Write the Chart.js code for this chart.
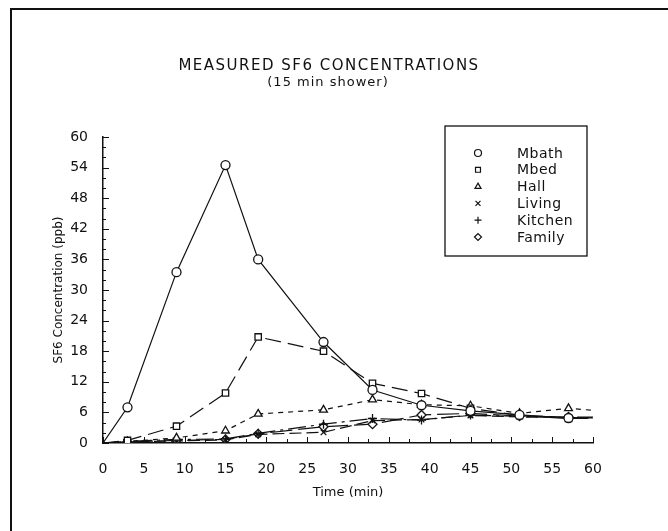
<!DOCTYPE html>
<html>
<head>
<meta charset="utf-8">
<script src="https://cdn.jsdelivr.net/npm/chart.js@4"></script>
<style>
  html, body { margin: 0; padding: 0; background: #fff; }
  #wrap { position: relative; width: 668px; height: 531px; }
</style>
</head>
<body>
<div id="wrap"><canvas id="sf6Chart" width="668" height="531"></canvas></div>
<script>
// tempos de medição (min)
const tempos = [0, 3, 9, 15, 19, 27, 33, 39, 45, 51, 57, 60];

// concentrações por cômodo (ppb)
const mbath   = [0, 7.0, 33.5, 54.5, 36.0, 19.8, 10.4, 7.4, 6.3, 5.5, 4.9, 4.9];
const mbed    = [0, 0.5, 3.3, 9.8, 20.8, 18.0, 11.7, 9.7, 6.8, 5.4, 4.8, 4.8];
const hall    = [0, 0.3, 1.0, 2.4, 5.7, 6.5, 8.5, 7.5, 7.3, 5.8, 6.8, 6.4];
const living  = [0, 0.2, 0.4, 0.6, 1.7, 2.1, 4.4, 4.6, 5.4, 5.1, 5.0, 5.0];
const kitchen = [0, 0.3, 0.7, 0.8, 1.9, 3.7, 4.8, 4.5, 5.5, 5.2, 5.0, 5.0];
const family  = [0, 0.2, 0.5, 0.7, 1.8, 3.2, 3.7, 5.5, 5.8, 5.3, 5.1, 5.1];

const nomes = ['Mbath', 'Mbed', 'Hall', 'Living', 'Kitchen', 'Family'];

// ticks dos eixos
const xTicks = [0, 5, 10, 15, 20, 25, 30, 35, 40, 45, 50, 55, 60];
const yTicks = [0, 6, 12, 18, 24, 30, 36, 42, 48, 54, 60];

const titulo = 'MEASURED SF6 CONCENTRATIONS';
const subtitulo = '(15 min shower)';

const FONTE = "'DejaVu Sans', sans-serif";
const estilos = [
    {style: 'circle', dash: [], radius: 4.5},
    {style: 'rect', dash: [16, 7], radius: 4.5},
    {style: 'triangle', dash: [5, 5], radius: 4.5},
    {style: 'crossRot', dash: [12, 5], radius: 4},
    {style: 'cross', dash: [18, 5, 3, 5], radius: 4.5},
    {style: 'rectRot', dash: [22, 6], radius: 4.5}
];

function serie(nome, valores, i) {
    const e = estilos[i];
    const ultimo = valores.length - 1;
    return {
        label: nome,
        data: tempos.map((t, k) => ({x: t, y: valores[k]})),
        borderColor: '#111',
        backgroundColor: '#fff',
        borderWidth: 1.2,
        borderDash: e.dash,
        pointStyle: e.style,
        pointRadius: ctx => (ctx.dataIndex === 0 || ctx.dataIndex === ultimo) ? 0 : e.radius,
        pointBorderWidth: 1.3,
        pointBorderColor: '#111',
        pointBackgroundColor: '#fff',
        tension: 0
    };
}

const datasets = [
    serie(nomes[0], mbath, 0),
    serie(nomes[1], mbed, 1),
    serie(nomes[2], hall, 2),
    serie(nomes[3], living, 3),
    serie(nomes[4], kitchen, 4),
    serie(nomes[5], family, 5)
];

// moldura (só esquerda e topo aparecem no recorte) + títulos
const moldura = {
    id: 'moldura',
    beforeDraw(chart) {
        const ctx = chart.ctx;
        ctx.save();
        ctx.fillStyle = '#fff';
        ctx.fillRect(0, 0, chart.width, chart.height);
        ctx.strokeStyle = '#111';
        ctx.lineWidth = 2;
        ctx.beginPath();
        ctx.moveTo(11, chart.height);
        ctx.lineTo(11, 9);
        ctx.lineTo(chart.width, 9);
        ctx.stroke();

        ctx.fillStyle = '#111';
        ctx.textAlign = 'center';
        ctx.textBaseline = 'middle';
        ctx.font = '15px ' + FONTE;
        ctx.letterSpacing = '1.5px';
        ctx.fillText(titulo, 329, 66);
        ctx.font = '13px ' + FONTE;
        ctx.letterSpacing = '1px';
        ctx.fillText(subtitulo, 328, 83);
        ctx.letterSpacing = '0px';
        ctx.restore();
    }
};

// ticks para dentro, como no original
const ticksInternos = {
    id: 'ticksInternos',
    afterDatasetsDraw(chart) {
        const {ctx, scales: {x, y}, chartArea} = chart;
        ctx.save();
        ctx.strokeStyle = '#111';
        ctx.lineWidth = 1;
        ctx.beginPath();
        for (let v = 0; v <= 60; v += 2.5) {
            const px = Math.round(x.getPixelForValue(v)) + 0.5;
            const len = v % 5 === 0 ? 6 : 4;
            ctx.moveTo(px, chartArea.bottom);
            ctx.lineTo(px, chartArea.bottom - len);
        }
        for (let v = 0; v <= 60; v += 2) {
            const py = Math.round(y.getPixelForValue(v)) + 0.5;
            const len = v % 6 === 0 ? 6 : 3;
            ctx.moveTo(chartArea.left, py);
            ctx.lineTo(chartArea.left + len, py);
        }
        ctx.stroke();
        ctx.restore();
    }
};

// legenda em caixa dentro do gráfico
const legendaCaixa = {
    id: 'legendaCaixa',
    afterDraw(chart) {
        const ctx = chart.ctx;
        const bx = 445, by = 126, bw = 142, bh = 130;
        ctx.save();
        ctx.fillStyle = '#fff';
        ctx.fillRect(bx, by, bw, bh);
        ctx.strokeStyle = '#111';
        ctx.lineWidth = 1.3;
        ctx.strokeRect(bx, by, bw, bh);
        ctx.font = '14px ' + FONTE;
        ctx.textBaseline = 'middle';
        chart.data.datasets.forEach((ds, i) => {
            const yy = by + 27 + i * 16.8;
            ctx.strokeStyle = '#111';
            ctx.fillStyle = '#fff';
            ctx.lineWidth = 1.2;
            Chart.helpers.drawPoint(ctx, {
                pointStyle: estilos[i].style,
                radius: 3.5,
                rotation: 0,
                borderWidth: 1.2
            }, bx + 33, yy);
            ctx.fillStyle = '#111';
            ctx.letterSpacing = '0.5px';
            ctx.fillText(ds.label, bx + 72, yy + 1);
        });
        ctx.restore();
    }
};

const ctx = document.getElementById('sf6Chart').getContext('2d');
new Chart(ctx, {
    type: 'line',
    data: {datasets},
    plugins: [moldura, ticksInternos, legendaCaixa],
    options: {
        responsive: false,
        animation: false,
        layout: {padding: {left: 0, top: 137, right: 75, bottom: 0}},
        plugins: {
            legend: {display: false},
            tooltip: {enabled: false}
        },
        scales: {
            x: {
                type: 'linear',
                min: 0,
                max: 60,
                afterFit: scale => { scale.height = 88; },
                afterBuildTicks: scale => { scale.ticks = xTicks.map(v => ({value: v})); },
                ticks: {color: '#111', font: {family: FONTE, size: 14}, padding: 10, maxRotation: 0},
                grid: {display: false},
                border: {display: true, color: '#111', width: 1.5},
                title: {
                    display: true,
                    text: 'Time (min)',
                    color: '#111',
                    font: {family: FONTE, size: 13},
                    padding: {top: 0, bottom: 31}
                }
            },
            y: {
                min: 0,
                max: 60,
                afterFit: scale => { scale.width = 103; },
                afterBuildTicks: scale => { scale.ticks = yTicks.map(v => ({value: v})); },
                ticks: {color: '#111', font: {family: FONTE, size: 14}, padding: 7},
                grid: {display: false},
                border: {display: true, color: '#111', width: 1.5},
                title: {
                    display: true,
                    text: 'SF6 Concentration (ppb)',
                    color: '#111',
                    font: {family: FONTE, size: 12},
                    padding: {top: 52, bottom: 0}
                }
            }
        }
    }
});
</script>
</body>
</html>
